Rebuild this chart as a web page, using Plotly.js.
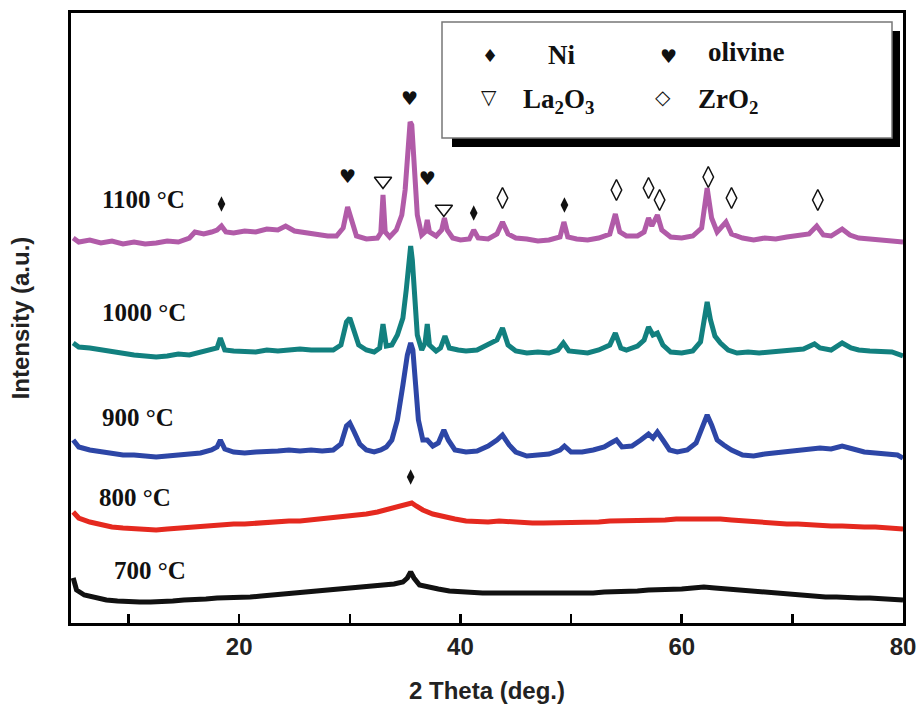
<!DOCTYPE html>
<html>
<head>
<meta charset="utf-8">
<script src="https://cdn.plot.ly/plotly-3.0.1.min.js"></script>
<style>html,body{margin:0;padding:0;background:#fff;}#chart{width:919px;height:705px;}</style>
</head>
<body>
<div id="chart"></div>
<script>
// ---- Data (2θ in degrees, intensity in arbitrary units) ----
const x1100 = [5.0,5.5,6.5,7.5,8.5,9.5,10.5,11.5,12.5,13.5,14.5,15.5,16.0,16.8,17.5,18.0,18.4,18.8,19.5,20.5,21.5,22.5,23.5,24.2,25.0,26.0,27.0,28.0,28.8,29.4,29.8,30.2,30.6,31.5,32.5,32.8,33.0,33.2,33.6,34.2,34.7,35.0,35.25,35.45,35.6,35.8,36.1,36.5,36.8,37.0,37.2,37.8,38.3,38.55,38.8,39.3,40.0,40.8,41.2,41.6,42.5,43.3,43.8,44.3,45.0,46.0,47.0,48.0,49.0,49.35,49.7,50.5,51.5,52.5,53.5,54.0,54.4,55.0,56.0,56.6,57.0,57.3,57.8,58.2,59.0,60.0,61.0,61.8,62.3,62.7,63.2,64.0,64.5,65.5,66.5,67.5,68.5,69.5,70.5,71.5,72.2,72.8,73.5,74.5,75.2,76.0,77.0,78.0,79.0,80.0];
const y1100 = [385,381,383,380,382,379,381,379,380,382,381,385,391,389,391,393,397,391,390,392,391,394,393,397,392,390,389,387,387,395,416,401,387,384,385,390,428,391,386,393,408,433,473,501,498,453,408,388,391,403,391,387,393,405,393,385,383,384,393,385,384,389,401,389,385,384,382,383,386,401,386,384,383,385,389,409,391,387,387,391,405,397,408,393,386,385,387,395,435,405,391,401,389,385,383,385,384,386,387,389,397,388,387,394,388,385,384,383,383,381];

const x1000 = [5.0,5.5,6.5,7.5,8.5,9.5,10.5,11.5,12.5,13.5,14.5,15.5,16.5,17.5,18.0,18.3,18.7,19.5,20.5,21.5,22.5,23.5,24.5,25.5,26.5,27.5,28.5,29.2,29.7,30.0,30.3,30.8,31.5,32.2,32.7,33.0,33.3,33.8,34.3,34.8,35.1,35.35,35.5,35.65,35.85,36.1,36.5,36.8,37.0,37.2,37.8,38.2,38.6,39.0,39.8,40.5,41.5,42.5,43.3,43.8,44.3,45.0,46.0,47.0,48.0,48.8,49.3,49.8,50.5,51.5,52.5,53.5,54.0,54.5,55.0,56.0,56.6,57.0,57.4,57.8,58.3,59.0,60.0,61.0,61.7,62.1,62.3,62.6,63.0,63.5,64.2,65.0,66.0,67.0,68.0,69.0,70.0,71.0,72.0,72.5,73.5,74.5,75.3,76.0,77.0,78.0,79.0,80.0];
const y1000 = [280,276,275,273,271,269,268,267,266,267,269,268,271,273,275,285,273,272,271,271,273,272,273,274,273,273,273,278,301,305,295,278,273,271,275,299,277,278,288,305,333,368,377,363,323,288,273,280,299,278,272,275,287,275,273,272,273,278,283,295,278,272,270,271,270,273,280,272,271,270,273,278,290,275,273,277,283,296,288,290,278,271,270,272,281,305,321,303,287,280,273,270,271,270,271,272,273,274,279,275,273,280,275,273,272,271,271,267];

const x900 = [5.0,5.5,6.5,7.5,8.5,9.5,10.5,11.5,12.5,13.5,14.5,15.5,16.5,17.5,18.0,18.3,18.7,19.5,20.5,21.5,22.5,23.5,24.5,25.5,26.5,27.5,28.5,29.2,29.7,30.0,30.4,30.9,31.5,32.2,32.8,33.3,33.8,34.3,34.8,35.2,35.5,35.7,35.95,36.2,36.6,37.0,37.5,38.0,38.5,38.9,39.5,40.5,41.5,42.5,43.3,43.8,44.4,45.0,46.0,47.0,48.0,49.0,49.4,50.0,51.0,52.0,53.0,53.6,54.1,54.6,55.5,56.3,57.0,57.4,57.8,58.3,58.9,59.6,60.5,61.3,61.9,62.3,62.7,63.2,63.8,64.5,65.5,66.5,67.5,68.5,69.5,70.5,71.5,72.5,73.5,74.5,75.5,76.5,77.5,78.5,79.5,80.0];
const y900 = [183,176,173,171,169,168,168,167,166,167,168,169,170,173,176,183,174,171,170,171,171,172,173,172,173,172,173,179,197,200,191,179,173,171,173,176,183,203,238,268,280,273,238,203,183,183,177,180,193,183,173,171,172,177,183,188,178,171,167,168,169,173,177,171,171,173,176,180,183,176,177,183,189,185,191,183,173,171,173,180,198,208,198,183,178,173,168,167,169,170,171,172,173,175,174,177,174,171,170,169,168,165];

const x800 = [5.0,5.5,6.5,7.5,8.5,9.5,10.5,11.5,12.5,13.5,14.5,15.5,16.5,17.5,18.5,19.5,20.5,21.5,22.5,23.5,24.5,25.5,26.5,27.5,28.5,29.5,30.5,31.5,32.5,33.5,34.5,35.2,35.6,36.0,36.6,37.5,38.5,39.5,40.5,41.5,42.5,43.5,44.5,45.5,46.5,47.5,48.5,49.5,50.5,51.5,52.5,53.5,54.5,55.5,56.5,57.5,58.5,59.5,60.5,61.5,62.5,63.5,64.5,65.5,66.5,67.5,68.5,69.5,70.5,71.5,72.5,73.5,74.5,75.5,76.5,77.5,78.5,79.5,80.0];
const y800 = [111,105,101,98,96,95,94,93,93,94,95,96,97,97,98,99,99,100,101,101,102,102,103,104,105,106,108,109,111,114,117,119,120,117,113,109,106,104,102,101,101,102,101,101,100,100,100,101,101,101,101,102,102,102,103,103,103,104,104,105,105,104,103,102,101,101,100,99,99,98,98,97,97,96,96,96,95,95,94];

const x700 = [5.0,5.3,6.0,7.0,8.0,9.0,10.0,11.0,12.0,13.0,14.0,15.0,16.0,17.0,18.0,19.0,20.0,21.0,22.0,23.0,24.0,25.0,26.0,27.0,28.0,29.0,30.0,31.0,32.0,33.0,34.0,34.8,35.2,35.5,35.8,36.3,37.0,38.0,39.0,40.0,41.0,42.0,43.0,44.0,45.0,46.0,47.0,48.0,49.0,50.0,51.0,52.0,53.0,54.0,55.0,56.0,57.0,58.0,59.0,60.0,61.0,62.0,63.0,64.0,65.0,66.0,67.0,68.0,69.0,70.0,71.0,72.0,73.0,74.0,75.0,76.0,77.0,78.0,79.0,80.0];
const y700 = [45,33,28,25,23,22,21,21,21,21,22,23,23,24,25,25,26,26,27,28,28,29,30,31,32,33,34,35,36,37,39,41,45,51,45,38,36,34,32,31,31,30,30,30,29,29,29,29,29,29,30,30,31,31,32,32,33,33,34,34,35,36,35,34,33,32,31,30,29,28,27,27,26,26,25,25,25,24,24,23];

// Phase reflection markers (2θ, marker height)
const niX = [18.4, 41.2, 49.4, 35.5];
const niY = [419, 410, 418, 146];
const olivineX = [29.8, 35.4, 37.0];
const olivineY = [445, 523, 443];
const la2o3X = [33.0, 38.5];
const la2o3Y = [442, 414];
const zro2X = [43.8, 54.1, 57.0, 58.0, 62.4, 64.5, 72.3];
const zro2Y = [425, 433, 435, 423, 446, 425, 423];

const tempLabels = ['1100 °C', '1000 °C', '900 °C', '800 °C', '700 °C'];

// ---- Layout geometry helpers ----
const L = 71, R = 16, T = 13, B = 82, W = 919, H = 705;
const XR = [4.8, 80], YR = [0, 610];
const pw = W - L - R, ph = H - T - B;
const px2x = p => XR[0] + (p - L) / pw * (XR[1] - XR[0]);
const py2y = p => YR[0] + (H - B - p) / ph * (YR[1] - YR[0]);

const lineW = 5;
function series(x, y, color) {
  return {x: x, y: y, type: 'scatter', mode: 'lines', line: {color: color, width: lineW, shape: 'linear'}, hoverinfo: 'skip'};
}
const traces = [
  series(x700, y700, '#111111'),
  series(x800, y800, '#e5291f'),
  series(x900, y900, '#2d46a6'),
  series(x1000, y1000, '#12807f'),
  series(x1100, y1100, '#b15ba8'),
  {x: niX, y: niY, type: 'scatter', mode: 'markers', marker: {symbol: 'diamond-tall', size: 11, color: '#111'}, hoverinfo: 'skip'},
  {x: la2o3X, y: la2o3Y, type: 'scatter', mode: 'markers', marker: {symbol: 'triangle-down-open', size: 15, color: '#111', line: {width: 1.5}}, hoverinfo: 'skip'},
  {x: zro2X, y: zro2Y, type: 'scatter', mode: 'markers', marker: {symbol: 'diamond-tall-open', size: 15, color: '#111', line: {width: 1.5}}, hoverinfo: 'skip'},
  {x: olivineX, y: olivineY, type: 'scatter', mode: 'text', text: olivineX.map(() => '♥'), textposition: 'middle center', textfont: {family: 'DejaVu Sans', size: 19, color: '#111'}, hoverinfo: 'skip', cliponaxis: false}
];

const serif = 'Liberation Serif, Times New Roman, serif';
const labelPos = [[100, 199], [100, 312], [100, 417], [97, 497], [112, 570]];
const annotations = tempLabels.map((t, i) => ({
  x: px2x(labelPos[i][0]), y: py2y(labelPos[i][1]), xref: 'x', yref: 'y',
  text: '<b>' + t + '</b>', showarrow: false, xanchor: 'left', yanchor: 'middle',
  font: {family: serif, size: 25, color: '#111'}
}));

// Legend box content
const legItems = [
  {g: '♦', gx: 490, gy: 55, gs: 18, t: 'Ni', tx: 546, ty: 55},
  {g: '♥', gx: 668, gy: 56, gs: 19, t: 'olivine', tx: 706, ty: 52},
  {g: '▽', gx: 489, gy: 97, gs: 20, t: 'La<sub>2</sub>O<sub>3</sub>', tx: 521, ty: 101},
  {g: '◇', gx: 663, gy: 97, gs: 20, t: 'ZrO<sub>2</sub>', tx: 696, ty: 101}
];
legItems.forEach(it => {
  annotations.push({x: px2x(it.gx), y: py2y(it.gy), xref: 'x', yref: 'y', text: it.g, showarrow: false,
    xanchor: 'center', yanchor: 'middle', font: {family: 'DejaVu Sans', size: it.gs, color: '#111'}});
  annotations.push({x: px2x(it.tx), y: py2y(it.ty), xref: 'x', yref: 'y', text: '<b>' + it.t + '</b>', showarrow: false,
    xanchor: 'left', yanchor: 'middle', font: {family: serif, size: 27, color: '#111'}});
});

const shapes = [
  {type: 'rect', xref: 'x', yref: 'y', x0: px2x(452), x1: px2x(900), y0: py2y(31), y1: py2y(147), fillcolor: '#000', line: {width: 0}, layer: 'above'},
  {type: 'rect', xref: 'x', yref: 'y', x0: px2x(442), x1: px2x(892), y0: py2y(22), y1: py2y(138), fillcolor: '#fff', line: {color: '#777', width: 1.5}, layer: 'above'}
];

const sans = 'Liberation Sans Narrow, Arial Narrow, Liberation Sans, Arial, sans-serif';
const layout = {
  width: W, height: H,
  margin: {l: L, r: R, t: T, b: B, pad: 0},
  paper_bgcolor: '#fff', plot_bgcolor: '#fff',
  showlegend: false,
  xaxis: {
    range: XR, showgrid: false, zeroline: false,
    showline: true, linecolor: '#000', linewidth: 3, mirror: true,
    tickmode: 'linear', tick0: 0, dtick: 20,
    ticks: 'inside', ticklen: 9, tickwidth: 2.5, tickcolor: '#000',
    minor: {tickmode: 'linear', tick0: 0, dtick: 10, ticks: 'inside', ticklen: 9, tickwidth: 2.5, tickcolor: '#000', showgrid: false},
    tickfont: {family: sans, size: 24, color: '#222', weight: 'bold'},
    ticklabelstandoff: 0,
    title: {text: '<b>2 Theta (deg.)</b>', font: {family: sans, size: 24, color: '#222'}, standoff: 24}
  },
  yaxis: {
    range: YR, showgrid: false, zeroline: false,
    showline: true, linecolor: '#000', linewidth: 3, mirror: true,
    ticks: '', showticklabels: false,
    title: {text: '<b>Intensity (a.u.)</b>', font: {family: sans, size: 24, color: '#222'}, standoff: 32}
  },
  annotations: annotations,
  shapes: shapes
};

Plotly.newPlot('chart', traces, layout, {displayModeBar: false, staticPlot: true});
</script>
</body>
</html>
